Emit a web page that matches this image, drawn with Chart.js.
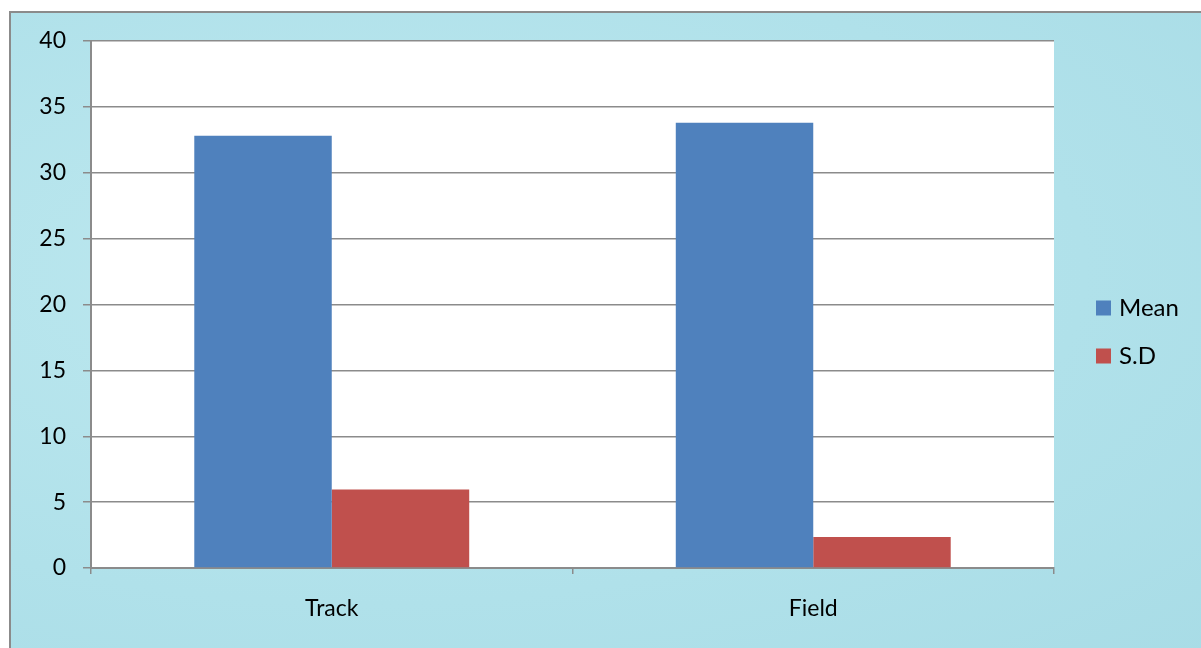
<!DOCTYPE html>
<html>
<head>
<meta charset="utf-8">
<script src="https://cdn.jsdelivr.net/npm/chart.js@4"></script>
<style>
  html, body { margin:0; padding:0; background:#ffffff; width:1201px; height:648px; overflow:hidden; }
  #frame { position:absolute; left:9px; top:11px; width:1200px; height:650px;
           border-left:2px solid #8b8b8b; border-top:2px solid #8b8b8b;
           background: radial-gradient(ellipse at 30% 40%, #bde8ef 0%, #b0e1ea 60%, #a8dce6 100%); }
  #wrap { position:absolute; left:0; top:0; width:1201px; height:648px; }
</style>
</head>
<body>
<div id="frame"></div>
<div id="wrap"><canvas id="c" width="1201" height="648"></canvas></div>
<script>
const categories = ["Track", "Field"];
const meanValues = [32.8, 33.8];
const sdValues = [5.95, 2.35];
const seriesNames = ["Mean", "S.D"];
const yTicks = [0, 5, 10, 15, 20, 25, 30, 35, 40];

const FONT = "Lato, 'Open Sans', sans-serif";

const plotBg = {
  id: 'plotBg',
  beforeDraw(chart) {
    const {ctx, chartArea: a} = chart;
    ctx.save();
    ctx.fillStyle = '#ffffff';
    ctx.fillRect(a.left, a.top, a.right - a.left, a.bottom - a.top);
    ctx.restore();
  }
};

const sideLegend = {
  id: 'sideLegend',
  afterDraw(chart) {
    const {ctx, chartArea: a} = chart;
    ctx.save();
    ctx.font = '24px ' + FONT;
    ctx.textBaseline = 'middle';
    ctx.textAlign = 'left';
    const startY = 308, gap = 48;
    chart.data.datasets.forEach((ds, i) => {
      const y = startY + i * gap;
      ctx.fillStyle = ds.backgroundColor;
      ctx.fillRect(a.right + 42, y - 7.5, 15, 15);
      ctx.fillStyle = '#000000';
      ctx.fillText(ds.label, a.right + 65, y);
    });
    ctx.restore();
  }
};

new Chart(document.getElementById('c'), {
  type: 'bar',
  data: {
    labels: categories,
    datasets: [
      { label: seriesNames[0], data: meanValues, backgroundColor: '#4f81bd' },
      { label: seriesNames[1], data: sdValues, backgroundColor: '#c0504d' }
    ]
  },
  options: {
    responsive: false,
    animation: false,
    devicePixelRatio: 1,
    layout: { padding: { left: 0, top: 41, right: 147, bottom: 0 } },
    datasets: { bar: { categoryPercentage: 0.571, barPercentage: 1.0, borderWidth: 0 } },
    plugins: { legend: { display: false }, tooltip: { enabled: false } },
    scales: {
      x: {
        afterFit(s) { s.height = 80; },
        grid: { display: true, drawOnChartArea: false, drawTicks: true, tickLength: 6, color: '#8b8b8b', lineWidth: 1.5, offset: true },
        border: { display: true, color: '#8b8b8b', width: 2 },
        ticks: { color: '#000000', font: { family: FONT, size: 23 }, padding: 21 }
      },
      y: {
        min: 0, max: 40,
        afterFit(s) { s.width = 91; },
        afterBuildTicks(s) { s.ticks = yTicks.map(v => ({ value: v })); },
        grid: { color: '#8b8b8b', lineWidth: 1.5, tickLength: 8, drawTicks: true },
        border: { display: true, color: '#8b8b8b', width: 2 },
        ticks: { color: '#000000', font: { family: FONT, size: 23 }, padding: 17 }
      }
    }
  },
  plugins: [plotBg, sideLegend]
});
</script>
</body>
</html>
